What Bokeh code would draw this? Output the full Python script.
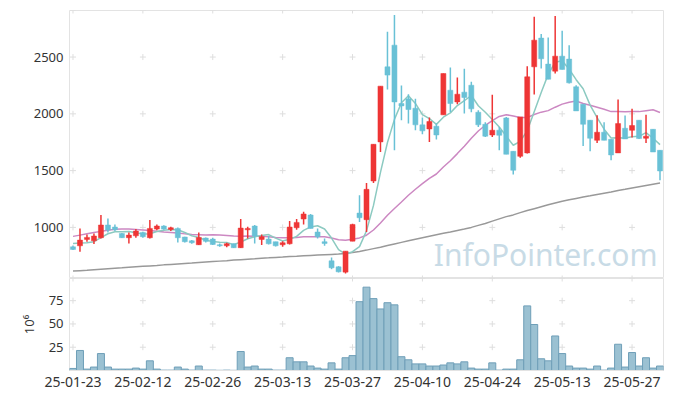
import numpy as np
import pandas as pd
from bokeh.plotting import figure
from bokeh.layouts import column
from bokeh.models import ColumnDataSource, Range1d, FixedTicker, Label
from bokeh.embed import file_html
from bokeh.resources import INLINE

dates = ["25-01-23", "25-01-24", "25-01-31",
         "25-02-03", "25-02-04", "25-02-05", "25-02-06", "25-02-07", "25-02-10", "25-02-11", "25-02-12",
         "25-02-13", "25-02-14", "25-02-17", "25-02-18", "25-02-19", "25-02-20", "25-02-21", "25-02-24",
         "25-02-25", "25-02-26", "25-02-27", "25-02-28",
         "25-03-04", "25-03-05", "25-03-06", "25-03-07", "25-03-10", "25-03-11", "25-03-12", "25-03-13",
         "25-03-14", "25-03-17", "25-03-18", "25-03-19", "25-03-20", "25-03-21", "25-03-24", "25-03-25",
         "25-03-26", "25-03-27", "25-03-28", "25-03-31",
         "25-04-01", "25-04-02", "25-04-03", "25-04-04", "25-04-07", "25-04-08", "25-04-09", "25-04-10",
         "25-04-11", "25-04-14", "25-04-15", "25-04-16", "25-04-17", "25-04-18", "25-04-21", "25-04-22",
         "25-04-23", "25-04-24", "25-04-25", "25-04-28", "25-04-29", "25-04-30",
         "25-05-02", "25-05-07", "25-05-08", "25-05-09", "25-05-12", "25-05-13", "25-05-14", "25-05-15",
         "25-05-16", "25-05-19", "25-05-20", "25-05-21", "25-05-22", "25-05-23", "25-05-26", "25-05-27",
         "25-05-28", "25-05-29", "25-05-30", "25-06-02"]

opens = [829, 838, 894, 882, 909, 1021, 1003, 947, 909, 926,
         956, 909, 985, 1012, 982, 991, 915, 882, 847, 906,
         897, 847, 838, 856, 821, 979, 1012, 894, 897, 874,
         847, 856, 997, 1074, 1109, 959, 874, 706, 653, 606,
         879, 1126, 1068, 1409, 1753, 2414, 2605, 2091, 2132, 2050,
         1903, 1867, 1891, 1991, 2208, 2105, 2191, 2252, 2014, 1908,
         1814, 1856, 1964, 1670, 1626, 1656, 2414, 2667, 2438, 2376,
         2508, 2482, 2238, 2085, 1944, 1767, 1838, 1776, 1656, 1873,
         1855, 1944, 1785, 1864, 1679]
highs = [840, 991, 938, 947, 1109, 1079, 1026, 950, 956, 985,
         962, 1065, 1026, 1018, 1006, 1000, 918, 888, 956, 912,
         909, 859, 865, 859, 1074, 1006, 1021, 938, 926, 874,
         879, 1056, 1074, 1138, 1118, 991, 903, 735, 659, 791,
         1032, 1282, 1391, 1732, 2244, 2723, 2870, 2250, 2173, 2132,
         1967, 1967, 1914, 2355, 2408, 2320, 2397, 2282, 2032, 1926,
         2167, 1885, 1973, 1670, 1973, 2420, 2855, 2702, 2673, 2861,
         2732, 2605, 2252, 2085, 1944, 1988, 1926, 1776, 2126, 1985,
         2044, 1944, 1991, 1864, 1679]
lows = [800, 785, 874, 853, 903, 956, 968, 906, 859, 909,
        909, 903, 974, 979, 968, 868, 868, 856, 844, 868,
        844, 830, 826, 818, 818, 903, 859, 844, 850, 832,
        829, 850, 979, 1026, 991, 903, 838, 632, 603, 594,
        879, 1047, 959, 1391, 1664, 2214, 1679, 1944, 1914, 1856,
        1820, 1753, 1773, 1991, 2017, 2085, 2003, 2014, 1885, 1797,
        1797, 1679, 1644, 1465, 1614, 1650, 2170, 2399, 2305, 2355,
        2391, 2267, 2026, 1717, 1670, 1744, 1767, 1591, 1656, 1779,
        1791, 1779, 1744, 1664, 1415]
closes = [806, 888, 912, 924, 1021, 976, 979, 909, 932, 968,
          918, 991, 1012, 985, 997, 909, 874, 865, 912, 877,
          850, 838, 856, 821, 994, 991, 924, 918, 856, 838,
          865, 1003, 1044, 1118, 991, 918, 859, 644, 609, 791,
          1026, 1085, 1335, 1732, 2244, 2341, 2105, 2070, 2038, 1903,
          1850, 1932, 1814, 2355, 2091, 2173, 2144, 2044, 1903, 1803,
          1856, 1811, 1644, 1503, 1973, 2326, 2649, 2485, 2305, 2508,
          2391, 2273, 2026, 1908, 1785, 1838, 1767, 1638, 1914, 1779,
          1897, 1782, 1803, 1664, 1497]
volume_m = [2.2, 21.5, 1.5, 3.7, 18.2, 3.7, 1.5, 1.5, 1.5, 2.6,
            1.5, 10.4, 1.5, 0.4, 0.4, 3.7, 1.5, 0.4, 4.8, 0.4,
            0.4, 0.2, 0.4, 0.2, 20.4, 3.7, 4.8, 1.5, 1.5, 0.4,
            0.4, 13.7, 9.3, 9.3, 4.8, 2.6, 1.5, 8.2, 1.5, 13.7,
            16.0, 73.9, 89.5, 77.2, 66.1, 72.8, 70.5, 14.8, 11.5, 7.1,
            7.1, 4.8, 4.8, 5.9, 8.2, 7.1, 9.3, 2.6, 1.5, 1.5,
            8.2, 0.4, 1.5, 1.5, 11.5, 69.4, 49.4, 12.6, 10.4, 37.1,
            18.2, 4.8, 2.6, 2.6, 1.5, 4.8, 0.4, 2.6, 28.2, 3.7,
            19.3, 4.8, 13.7, 2.6, 4.8]
# moving averages: leading values (need earlier history)
ma5_head = [859, 862, 865, 874]
ma20_head = [921, 932, 944, 955, 965, 975, 983, 986, 985, 982,
             978, 973, 966, 960, 955, 950, 943, 938, 936]
ma120 = [615, 619, 623, 628, 632, 636, 640, 644, 649, 653,
         657, 661, 665, 670, 674, 678, 682, 686, 691, 695,
         699, 703, 707, 712, 716, 720, 724, 729, 732, 736,
         739, 743, 746, 750, 753, 756, 759, 762, 765, 770,
         778, 788, 800, 813, 826, 840, 854, 868, 882, 896,
         909, 922, 935, 948, 960, 973, 985, 1000, 1018, 1035,
         1055, 1075, 1095, 1110, 1130, 1148, 1165, 1182, 1199, 1215,
         1230, 1243, 1255, 1267, 1278, 1290, 1301, 1312, 1324, 1335,
         1347, 1358, 1369, 1380, 1391]

price_ticks = [1000, 1500, 2000, 2500]
vol_ticks = [25, 50, 75]
date_tick_every = 10

RED = "#ee3535"
BLUE = "#69c1d6"
FONT = "Noto Sans"
GRIDC = "#dedede"

n = len(dates)
idx = np.arange(n)
cs = pd.Series(closes, dtype=float)
ma5 = cs.rolling(5).mean().to_numpy()
ma5[:len(ma5_head)] = ma5_head
ma20 = cs.rolling(20).mean().to_numpy()
ma20[:len(ma20_head)] = ma20_head

colors = [RED if c >= o else BLUE for o, c in zip(opens, closes)]
src = ColumnDataSource(dict(
    x=idx, o=opens, h=highs, l=lows, c=closes,
    top=np.maximum(opens, closes), bottom=np.minimum(opens, closes),
    color=colors, vol=volume_m, ma5=ma5, ma20=ma20, ma120=ma120))

xr = Range1d(-0.5, n - 0.5)
x_ticks = list(range(0, n, date_tick_every))
pr = Range1d(550, 2910)
vr = Range1d(0, 98.8)

p = figure(width=673, height=278, x_range=xr, y_range=pr,
           output_backend="svg", toolbar_location=None, x_axis_location=None,
           min_border_left=69, min_border_right=10, min_border_top=10, min_border_bottom=0)
p.outline_line_color = "#e3e3e3"
p.background_fill_color = "white"
p.xgrid.grid_line_color = None
p.ygrid.grid_line_color = None
p.yaxis.ticker = FixedTicker(ticks=price_ticks)
p.yaxis.axis_line_color = None
p.yaxis.major_tick_line_color = None
p.yaxis.minor_tick_line_color = None
p.yaxis.major_tick_out = 0
p.yaxis.major_label_standoff = 6
p.yaxis.major_label_text_font = FONT
p.yaxis.major_label_text_font_size = "13px"
p.yaxis.major_label_text_color = "#333333"

gys = price_ticks + [pr.start, pr.end]
gx = [x for x in x_ticks for _ in gys]
gy = [y for _ in x_ticks for y in gys]
p.scatter(gx, gy, marker="cross", size=6, line_color=GRIDC, line_width=1)

wm = Label(x=588, y=4, x_units="screen", y_units="screen", text="InfoPointer.com",
           text_align="right", text_baseline="bottom", text_font=FONT,
           text_font_size="30px", text_color="#c8dbe6")
p.add_layout(wm)

p.line("x", "ma120", source=src, line_color="#999999", line_width=1.5)
p.line("x", "ma20", source=src, line_color="#cc88c2", line_width=1.5)
p.line("x", "ma5", source=src, line_color="#8ccac1", line_width=1.5)
p.segment("x", "h", "x", "l", source=src, line_color="color", line_width=1.5)
p.vbar(x="x", top="top", bottom="bottom", width=0.72, source=src,
       fill_color="color", line_color="color", line_width=0.5)

v = figure(width=673, height=111, x_range=xr, y_range=vr,
           output_backend="svg", toolbar_location=None,
           min_border_left=69, min_border_right=10, min_border_top=0, min_border_bottom=0)
v.outline_line_color = "#e3e3e3"
v.xgrid.grid_line_color = None
v.ygrid.grid_line_color = None
v.yaxis.ticker = FixedTicker(ticks=vol_ticks)
v.yaxis.axis_line_color = None
v.yaxis.major_tick_line_color = None
v.yaxis.minor_tick_line_color = None
v.yaxis.major_tick_out = 0
v.yaxis.major_label_standoff = 6
v.yaxis.major_label_text_font = FONT
v.yaxis.major_label_text_font_size = "13px"
v.yaxis.major_label_text_color = "#333333"
v.yaxis.axis_label = "10⁶"
v.yaxis.axis_label_text_font = FONT
v.yaxis.axis_label_text_font_size = "13px"
v.yaxis.axis_label_text_font_style = "normal"
v.yaxis.axis_label_text_color = "#333333"
v.yaxis.axis_label_standoff = 8
v.xaxis.ticker = FixedTicker(ticks=x_ticks)
v.xaxis.major_label_overrides = {i: dates[i] for i in x_ticks}
v.xaxis.axis_line_color = "#e3e3e3"
v.xaxis.major_tick_line_color = None
v.xaxis.minor_tick_line_color = None
v.xaxis.major_tick_out = 0
v.xaxis.major_label_standoff = 6
v.xaxis.major_label_text_font = FONT
v.xaxis.major_label_text_font_size = "14px"
v.xaxis.major_label_text_color = "#333333"

vgys = vol_ticks + [vr.end]
vgx = [x for x in x_ticks for _ in vgys]
vgy = [y for _ in x_ticks for y in vgys]
v.scatter(vgx, vgy, marker="cross", size=6, line_color=GRIDC, line_width=1)
v.vbar(x="x", top="vol", bottom=0, width=1.0, source=src,
       fill_color="#9bc1d2", line_color="#6f9fb8", line_width=1)

layout = column(p, v, spacing=0)
open("out.html", "w").write(file_html(layout, INLINE))
